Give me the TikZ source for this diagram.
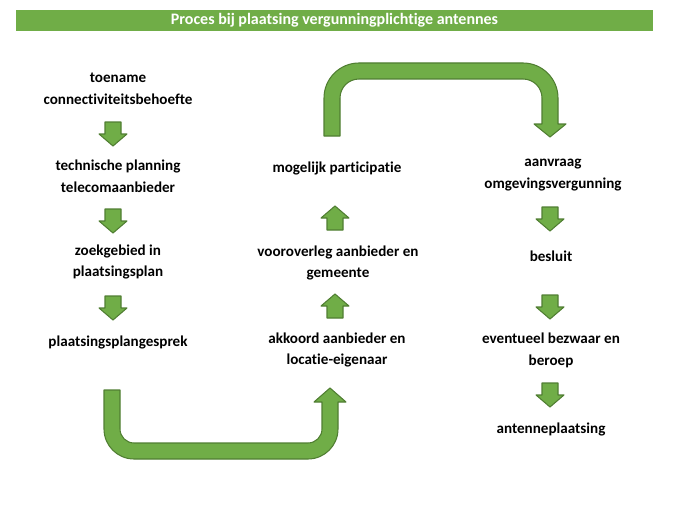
\documentclass[tikz,border=0pt]{standalone}
\usepackage{fontspec}
\setmainfont{Carlito}[Ligatures=NoCommon]
\usepackage{tikz}
\usetikzlibrary{calc}
\definecolor{groen}{HTML}{70AD47}
\definecolor{groenrand}{HTML}{507E32}

\begin{document}
\begin{tikzpicture} [x=0.02cm, y=-0.02cm
  , stap/.style={font=\bfseries\fontsize{8.6}{12.4}\selectfont, align=center, inner sep=0pt}
  , pijl/.style={fill=groen, draw=groenrand, line width=0.6pt, line join=round}
  , omlaag/.pic={\path[pijl] (-8,-12) -- (8,-12) -- (8,0) -- (14,0) -- (0,12) -- (-14,0) -- (-8,0) -- cycle;}
  , omhoog/.pic={\path[pijl] (-8,12) -- (8,12) -- (8,0) -- (14,0) -- (0,-12) -- (-14,0) -- (-8,0) -- cycle;}
  ]
  \useasboundingbox (0,0) rectangle (686,517);
  % titelbalk
  \node[fill=groen, minimum width=637*0.02cm, minimum height=21*0.02cm, inner sep=0pt
    , text=white, font=\bfseries\fontsize{9.1}{10}\selectfont] (titel) at (334.5,20.5)
    {Proces bij plaatsing vergunningplichtige antennes};

  % kolom 1
  \node[stap] (toename)  at (118,89)  {toename\\connectiviteitsbehoefte};
  \node[stap] (planning) at (118,176) {technische planning\\telecomaanbieder};
  \node[stap] (zoek)     at (118,262) {zoekgebied in\\plaatsingsplan};
  \node[stap] (gesprek)  at (118,342) {plaatsingsplangesprek};
  % kolom 2
  \node[stap] (akkoord)  at (337,350) {akkoord aanbieder en\\locatie-eigenaar};
  \node[stap] (overleg)  at (338,263) {vooroverleg aanbieder en\\gemeente};
  \node[stap] (particip) at (337,168) {mogelijk participatie};
  % kolom 3
  \node[stap] (aanvraag) at (553,175) {aanvraag\\omgevingsvergunning};
  \node[stap] (besluit)  at (551,256) {besluit};
  \node[stap] (bezwaar)  at (551,350) {eventueel bezwaar en\\beroep};
  \node[stap] (plaatsen) at (551,429) {antenneplaatsing};

  \pic at (113,134) {omlaag};
  \pic at (113,221) {omlaag};
  \pic at (113,308) {omlaag};
  \pic at (335,306) {omhoog};
  \pic at (335,218) {omhoog};
  \pic at (550,219) {omlaag};
  \pic at (550,307) {omlaag};
  \pic at (550,395) {omlaag};

  % U-bochten
  \path[pijl] (104,390) -- (104,429) arc[start angle=180, end angle=90, radius=30]
    -- (308,459) arc[start angle=90, end angle=0, radius=30]
    -- (338,402) -- (346,402) -- (330,388) -- (314,402) -- (322,402)
    -- (322,429) arc[start angle=0, end angle=90, radius=14]
    -- (134,443) arc[start angle=90, end angle=180, radius=14]
    -- (120,390) -- cycle;
  \path[pijl] (324,136) -- (324,98) arc[start angle=180, end angle=270, radius=35]
    -- (523,63) arc[start angle=270, end angle=360, radius=35]
    -- (558,124) -- (566,124) -- (550,137) -- (534,124) -- (542,124)
    -- (542,98) arc[start angle=0, end angle=-90, radius=19]
    -- (359,79) arc[start angle=270, end angle=180, radius=19]
    -- (340,136) -- cycle;
\end{tikzpicture}
\end{document}
